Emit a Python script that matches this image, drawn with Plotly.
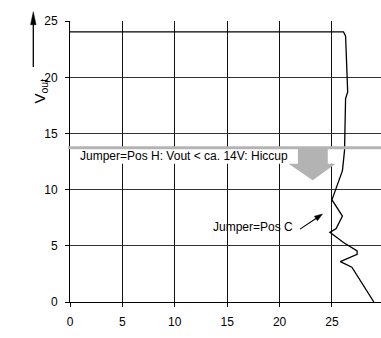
import plotly.graph_objects as go

# ---- data ----
vout_x = [0, 26.1, 26.3, 26.5, 26.5, 26.3, 26.25, 26.2, 26.0, 25.5, 25.0, 26.0,
          25.4, 24.8, 26.1, 27.4, 27.4, 25.8, 26.9, 29.0]
vout_y = [24.05, 24.05, 23.7, 18.9, 18.7, 18.1, 16.6, 13.5, 11.7, 10.4, 9.1, 7.65,
          6.55, 6.2, 5.3, 4.55, 4.25, 3.6, 3.1, 0.0]

x_ticks = [0, 5, 10, 15, 20, 25, 30]
y_ticks = [0, 5, 10, 15, 20, 25]
x_max = 29.68
y_max = 25.02

hiccup_threshold = 13.73
hiccup_box_x = [0, 25.25]
hiccup_box_y = [12.3, 13.62]
hiccup_arrow_x = [21.75, 24.6, 24.6, 25.35, 23.16, 20.85, 21.75, 21.75]
hiccup_arrow_y = [13.62, 13.62, 12.32, 12.32, 10.85, 12.32, 12.32, 13.62]

label_h = "Jumper=Pos H: Vout < ca. 14V: Hiccup"
label_c = "Jumper=Pos C"
label_c_pos = (17.5, 6.67)
label_c_arrow_tail = (21.95, 6.49)
label_c_arrow_tip = (24.1, 7.83)

FONT = "Liberation Sans, Arial, Helvetica, sans-serif"

W, H = 381, 338
ML, MR, MT, MB = 70, 0, 21, 36
PW, PH = W - ML - MR, H - MT - MB


def px(xp, yp):
    """pixel position on the page -> paper coords"""
    return (xp - ML) / PW, (H - MB - yp) / PH


fig = go.Figure()

fig.add_trace(go.Scatter(
    x=vout_x, y=vout_y, mode="lines",
    line=dict(color="black", width=1.3),
    hoverinfo="skip", showlegend=False, cliponaxis=False))

fig.add_trace(go.Scatter(
    x=hiccup_arrow_x, y=hiccup_arrow_y, mode="lines", fill="toself",
    fillcolor="#b3b3b3", line=dict(width=0, color="#b3b3b3"),
    hoverinfo="skip", showlegend=False))

# tick labels beyond the visible range (partially cut off, as in the reference)
extra_ticks = [t for t in x_ticks if t > x_max]
fig.add_trace(go.Scatter(
    x=extra_ticks, y=[-18.7 * y_max / PH] * len(extra_ticks),
    mode="text", text=[str(t) for t in extra_ticks], textposition="middle center",
    textfont=dict(family=FONT, size=12, color="black"),
    cliponaxis=False, hoverinfo="skip", showlegend=False))

# white box behind the hiccup label (covers grid lines)
fig.add_shape(type="rect", xref="x", yref="y",
              x0=hiccup_box_x[0], x1=hiccup_box_x[1],
              y0=hiccup_box_y[0], y1=hiccup_box_y[1],
              fillcolor="white", line=dict(width=0), layer="between")

# threshold line
fig.add_shape(type="line", xref="paper", yref="y", x0=-0.006, x1=1,
              y0=hiccup_threshold, y1=hiccup_threshold,
              line=dict(color="#b4b4b4", width=3), layer="above")

fig.add_annotation(x=0.72, y=(hiccup_box_y[0] + hiccup_box_y[1]) / 2,
                   xref="x", yref="y", text=label_h, showarrow=False,
                   xanchor="left", yanchor="middle",
                   font=dict(family=FONT, size=12, color="black"))

fig.add_annotation(x=label_c_pos[0], y=label_c_pos[1], xref="x", yref="y",
                   text=label_c, showarrow=False,
                   font=dict(family=FONT, size=12, color="black"))


def arrow_shapes(x0p, y0p, x1p, y1p, head_len, head_w, lw):
    """arrow from pixel (x0p,y0p) to tip (x1p,y1p), drawn as paper-ref shapes"""
    dx, dy = x1p - x0p, y1p - y0p
    L = (dx * dx + dy * dy) ** 0.5
    ux, uy = dx / L, dy / L
    bx, by = x1p - ux * head_len, y1p - uy * head_len
    nx, ny = -uy, ux
    a = px(x0p, y0p)
    b = px(bx + ux * 1, by + uy * 1)
    fig.add_shape(type="line", xref="paper", yref="paper",
                  x0=a[0], y0=a[1], x1=b[0], y1=b[1],
                  line=dict(color="black", width=lw), layer="above")
    p1 = px(x1p, y1p)
    p2 = px(bx + nx * head_w / 2, by + ny * head_w / 2)
    p3 = px(bx - nx * head_w / 2, by - ny * head_w / 2)
    path = f"M {p1[0]},{p1[1]} L {p2[0]},{p2[1]} L {p3[0]},{p3[1]} Z"
    fig.add_shape(type="path", xref="paper", yref="paper", path=path,
                  fillcolor="black", line=dict(color="black", width=0.5),
                  layer="above")


# Pos C arrow (data coords -> pixels)
def d2p(xv, yv):
    return ML + xv / x_max * PW, H - MB - yv / y_max * PH


tx, ty = d2p(*label_c_arrow_tail)
hx, hy = d2p(*label_c_arrow_tip)
arrow_shapes(tx, ty, hx, hy, head_len=8, head_w=5.5, lw=1.1)

# y axis title with upward arrow
tpos = px(28, 76.5)
fig.add_annotation(x=tpos[0], y=tpos[1], xref="paper", yref="paper",
                   text="V<sub>out</sub>", textangle=-90, showarrow=False,
                   font=dict(family=FONT, size=15, color="black"))
arrow_shapes(33.3, 67, 33.3, 11.7, head_len=13, head_w=5.5, lw=1.3)

fig.update_xaxes(range=[0, x_max], tickvals=[t for t in x_ticks if t <= x_max],
                 showgrid=True, gridcolor="#111111", gridwidth=1,
                 showline=True, linecolor="black", linewidth=1,
                 ticks="outside", ticklen=4, tickcolor="black",
                 zeroline=False, ticklabelstandoff=5,
                 tickfont=dict(family=FONT, size=12, color="black"))
fig.update_yaxes(range=[0, y_max], tickvals=y_ticks,
                 showgrid=True, gridcolor="#333333", gridwidth=1,
                 showline=True, linecolor="black", linewidth=1,
                 ticks="outside", ticklen=4, tickcolor="black",
                 zeroline=False, ticklabelstandoff=5,
                 tickfont=dict(family=FONT, size=12, color="black"))

fig.update_layout(width=W, height=H,
                  margin=dict(l=ML, r=MR, t=MT, b=MB, autoexpand=False),
                  paper_bgcolor="white", plot_bgcolor="white",
                  showlegend=False)

fig.write_html("out.html", config={"displayModeBar": False},
               post_script="document.body.style.margin='0';"
                           "document.body.style.overflow='hidden';")
